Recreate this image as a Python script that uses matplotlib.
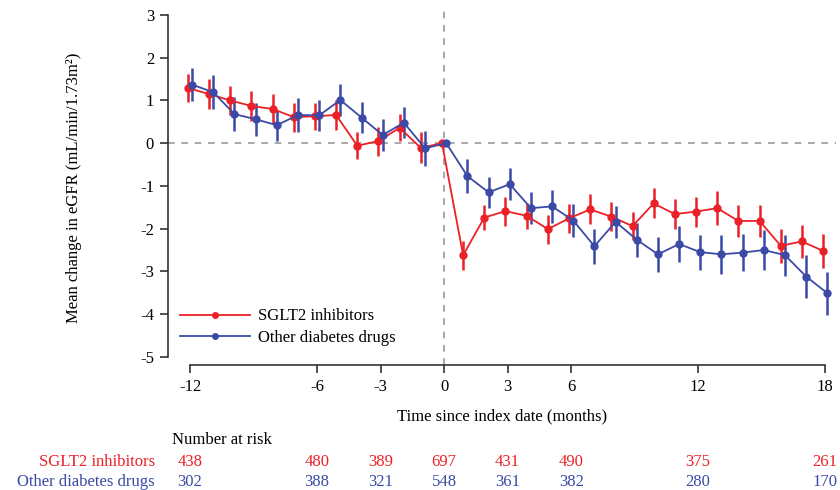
import numpy as np
import matplotlib
matplotlib.use("Agg")
import matplotlib.pyplot as plt

plt.rcParams['font.family'] = ['Liberation Serif', 'DejaVu Serif']
plt.rcParams['axes.unicode_minus'] = False

# data
months = list(range(-12, 19))
sglt2_mean = [1.29, 1.15, 1.00, 0.87, 0.80, 0.61, 0.63, 0.66, -0.06, 0.05, 0.36, -0.11, 0.00,
              -2.62, -1.74, -1.59, -1.70, -2.01, -1.76, -1.55, -1.72, -1.94, -1.41, -1.66,
              -1.60, -1.52, -1.82, -1.82, -2.40, -2.30, -2.52]
sglt2_err = [0.32, 0.34, 0.34, 0.34, 0.34, 0.34, 0.32, 0.34, 0.32, 0.34, 0.32, 0.36, 0.0,
             0.34, 0.29, 0.34, 0.31, 0.34, 0.33, 0.35, 0.34, 0.32, 0.35, 0.35,
             0.35, 0.39, 0.37, 0.38, 0.40, 0.39, 0.40]
other_mean = [1.37, 1.19, 0.68, 0.56, 0.42, 0.66, 0.65, 1.01, 0.60, 0.19, 0.48, -0.12, 0.00,
              -0.77, -1.15, -0.96, -1.52, -1.48, -1.81, -2.41, -1.84, -2.26, -2.60, -2.36,
              -2.55, -2.60, -2.56, -2.50, -2.62, -3.12, -3.51]
other_err = [0.39, 0.40, 0.40, 0.39, 0.36, 0.40, 0.36, 0.38, 0.37, 0.38, 0.36, 0.41, 0.0,
             0.40, 0.36, 0.38, 0.38, 0.38, 0.38, 0.41, 0.38, 0.40, 0.41, 0.43,
             0.41, 0.45, 0.44, 0.47, 0.48, 0.51, 0.50]

risk_months = [-12, -6, -3, 0, 3, 6, 12, 18]
sglt2_risk = [438, 480, 389, 697, 431, 490, 375, 261]
other_risk = [302, 388, 321, 548, 361, 382, 280, 170]

RED = '#EC2027'
BLUE = '#3A4AA6'

fig = plt.figure(figsize=(8.4, 4.9), dpi=100)
ax = fig.add_axes([0.2, 0.2551, 0.795, 0.7231])

m = np.array(months)
dodge = 0.1

ax.axhline(0, color='#999999', ls=(0, (4, 4)), lw=1.2, zorder=1)
ax.axvline(0, color='#999999', ls=(0, (4, 4)), lw=1.2, zorder=1)

ax.errorbar(m - dodge, sglt2_mean, yerr=sglt2_err, color=RED, lw=1.3, elinewidth=1.8,
            capsize=0, marker='o', ms=5, label='SGLT2 inhibitors', zorder=3)
ax.errorbar(m + dodge, other_mean, yerr=other_err, color=BLUE, lw=1.3, elinewidth=1.8,
            capsize=0, marker='o', ms=5, label='Other diabetes drugs', zorder=3)

ax.set_xlim(-13.04, 18.5)
ax.set_ylim(-5.19, 3.1)
ax.set_xticks(risk_months)
ax.set_yticks(range(-5, 4))
ax.spines['top'].set_visible(False)
ax.spines['right'].set_visible(False)
ax.spines['left'].set_bounds(-5, 3)
ax.spines['bottom'].set_bounds(-12, 18)
for s in ('left', 'bottom'):
    ax.spines[s].set_linewidth(1.2)
    ax.spines[s].set_color('#333333')
ax.tick_params(direction='out', length=6, width=1.2, color='#333333', labelsize=12, pad=4)

ax.set_xlabel('Time since index date (months)', fontsize=12, labelpad=10)
ax.set_ylabel('Mean change in eGFR (mL/min/1.73m²)', fontsize=12, labelpad=42)

handles, labels = ax.get_legend_handles_labels()
handles = [h[0] for h in handles]
ax.legend(handles, labels, loc='lower left', bbox_to_anchor=(0.0, 0.02), frameon=False,
          fontsize=12, handlelength=4.2, handletextpad=0.5, labelspacing=0.35,
          markerscale=0.8, borderaxespad=0.3)

# number at risk table
fig.text(172 / 840, 1 - 440 / 490, 'Number at risk', fontsize=12, ha='left', va='center')
fig.text(155 / 840, 1 - 462 / 490, 'SGLT2 inhibitors', fontsize=12, color=RED, ha='right', va='center')
fig.text(155 / 840, 1 - 482 / 490, 'Other diabetes drugs', fontsize=12, color=BLUE, ha='right', va='center')
trans = matplotlib.transforms.blended_transform_factory(ax.transData, fig.transFigure)
for xm, a, b in zip(risk_months, sglt2_risk, other_risk):
    ax.text(xm, 1 - 462 / 490, str(a), transform=trans, fontsize=12, color=RED, ha='center', va='center')
    ax.text(xm, 1 - 482 / 490, str(b), transform=trans, fontsize=12, color=BLUE, ha='center', va='center')

fig.savefig('out.png', dpi=100)
